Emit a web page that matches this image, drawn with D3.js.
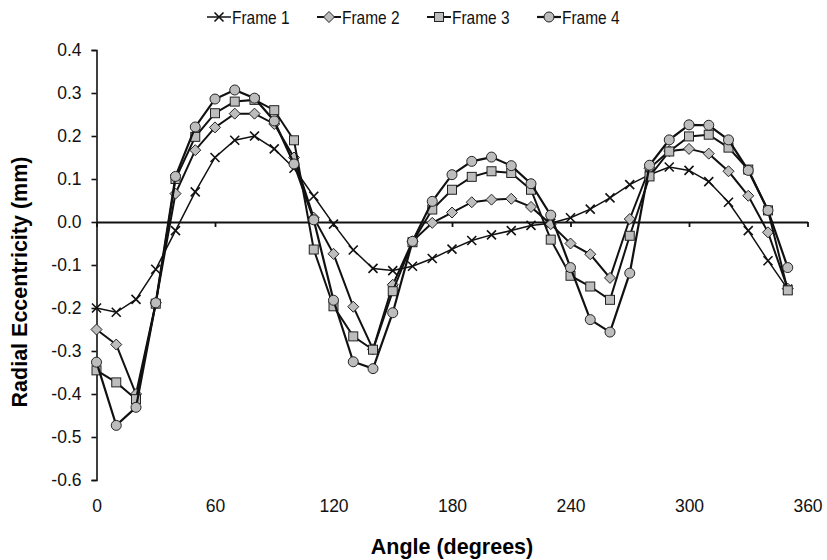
<!DOCTYPE html>
<html>
<head>
<meta charset="utf-8">
<script src="https://cdn.jsdelivr.net/npm/d3@7"></script>
<style>
  body { margin: 0; background: #fff; }
  text { font-family: Arial, "Liberation Sans", sans-serif; }
</style>
</head>
<body>
<svg width="827" height="560"></svg>
<script>
const angles = d3.range(0, 360, 10);
const seriesNames = ['Frame 1', 'Frame 2', 'Frame 3', 'Frame 4'];

const frame1 = [-0.20, -0.21, -0.18, -0.11, -0.02, 0.07, 0.15, 0.19, 0.20, 0.17, 0.125, 0.06,
  -0.005, -0.065, -0.108, -0.113, -0.103, -0.085, -0.063, -0.043, -0.03, -0.02, -0.008, -0.003,
  0.01, 0.03, 0.056, 0.087, 0.11, 0.128, 0.12, 0.094, 0.046, -0.02, -0.09, -0.156];
const frame2 = [-0.25, -0.285, -0.40, -0.188, 0.066, 0.167, 0.22, 0.252, 0.252, 0.228, 0.15, 0.01,
  -0.074, -0.197, -0.296, -0.146, -0.045, -0.002, 0.022, 0.046, 0.052, 0.054, 0.035, -0.005,
  -0.05, -0.075, -0.13, 0.007, 0.125, 0.165, 0.17, 0.159, 0.118, 0.061, -0.024, -0.155];
const frame3 = [-0.345, -0.373, -0.412, -0.19, 0.10, 0.198, 0.253, 0.28, 0.284, 0.26, 0.19, -0.064,
  -0.196, -0.266, -0.297, -0.161, -0.047, 0.029, 0.075, 0.105, 0.118, 0.114, 0.075, -0.041,
  -0.125, -0.15, -0.181, -0.032, 0.106, 0.164, 0.199, 0.203, 0.173, 0.122, 0.027, -0.159];
const frame4 = [-0.326, -0.473, -0.431, -0.188, 0.106, 0.221, 0.286, 0.307, 0.288, 0.235, 0.135, 0.005,
  -0.182, -0.325, -0.341, -0.211, -0.045, 0.048, 0.11, 0.141, 0.151, 0.131, 0.089, 0.016,
  -0.106, -0.227, -0.256, -0.119, 0.132, 0.191, 0.226, 0.225, 0.191, 0.12, 0.027, -0.106];

const xTicks = [0, 60, 120, 180, 240, 300, 360];
const yTicks = [-0.6, -0.5, -0.4, -0.3, -0.2, -0.1, 0.0, 0.1, 0.2, 0.3, 0.4];

const svg = d3.select('svg');

const x = d3.scaleLinear().domain([0, 360]).range([96.5, 807.5]);
const y = d3.scaleLinear().domain([-0.6, 0.4]).range([480, 50]);

// axes
const yAxis = svg.append('g')
    .attr('transform', `translate(${x(0)},0)`)
    .call(d3.axisLeft(y).tickValues(yTicks).tickSize(5).tickSizeOuter(5).tickPadding(10)
        .tickFormat(d => d.toFixed(1)));
yAxis.selectAll('text').attr('font-size', 17.5).attr('fill', '#111');
yAxis.selectAll('line,path').attr('stroke', '#111').attr('stroke-width', 1.6);

const xAxis = svg.append('g')
    .attr('transform', `translate(0,${y(0)})`)
    .call(d3.axisBottom(x).tickValues(xTicks).tickSize(5).tickSizeOuter(0).tickFormat(''));
xAxis.selectAll('line,path').attr('stroke', '#111').attr('stroke-width', 1.8);

const xLabels = svg.append('g')
    .attr('transform', `translate(0,${y(-0.6)})`)
    .call(d3.axisBottom(x).tickValues(xTicks).tickSize(0).tickPadding(20));
xLabels.select('.domain').remove();
xLabels.selectAll('text').attr('font-size', 17.5).attr('fill', '#111');

// titles
svg.append('text')
    .attr('x', 452).attr('y', 554)
    .attr('text-anchor', 'middle')
    .attr('font-size', 21.5).attr('font-weight', 'bold')
    .text('Angle (degrees)');

svg.append('text')
    .attr('transform', 'translate(27,282) rotate(-90)')
    .attr('text-anchor', 'middle')
    .attr('font-size', 21.5).attr('font-weight', 'bold')
    .text('Radial Eccentricity (mm)');

// series
const series = [frame1, frame2, frame3, frame4];
const shapes = ['cross', 'diamond', 'square', 'circle'];
const widths = [1.5, 2, 2, 2.2];

const line = d3.line()
    .x((d, i) => x(angles[i]))
    .y(d => y(d));

function drawMarker(g, shape) {
  if (shape === 'cross') {
    g.append('path').attr('d', 'M-4.5,-4.5L4.5,4.5M-4.5,4.5L4.5,-4.5')
        .attr('stroke', '#111').attr('stroke-width', 1.6).attr('fill', 'none');
  } else if (shape === 'diamond') {
    g.append('path').attr('d', 'M0,-5.5L5.5,0L0,5.5L-5.5,0Z')
        .attr('fill', '#bdbdbd').attr('stroke', '#222').attr('stroke-width', 1);
  } else if (shape === 'square') {
    g.append('rect').attr('x', -4.5).attr('y', -4.5).attr('width', 9).attr('height', 9)
        .attr('fill', '#bdbdbd').attr('stroke', '#222').attr('stroke-width', 1);
  } else {
    g.append('circle').attr('r', 5)
        .attr('fill', '#bdbdbd').attr('stroke', '#222').attr('stroke-width', 1);
  }
}

series.forEach((vals, s) => {
  const sg = svg.append('g');
  sg.append('path')
      .attr('d', line(vals))
      .attr('fill', 'none')
      .attr('stroke', '#111')
      .attr('stroke-width', widths[s]);
  sg.selectAll('g.pt')
      .data(vals)
      .join('g')
      .attr('class', 'pt')
      .attr('transform', (d, i) => `translate(${x(angles[i])},${y(d)})`)
      .each(function() { drawMarker(d3.select(this), shapes[s]); });
});

// legend (text slightly condensed like the original)
const legend = svg.append('g').attr('transform', 'translate(207,17)');
seriesNames.forEach((name, i) => {
  const item = legend.append('g').attr('transform', `translate(${i * 110},0)`);
  item.append('line')
      .attr('x1', 0).attr('x2', 24).attr('y1', 0).attr('y2', 0)
      .attr('stroke', '#111').attr('stroke-width', widths[i]);
  const m = item.append('g').attr('transform', 'translate(12,0)');
  drawMarker(m, shapes[i]);
  item.append('text')
      .attr('transform', 'translate(25,6.5) scale(0.86,1)')
      .attr('font-size', 18).attr('fill', '#111')
      .text(name);
});
</script>
</body>
</html>
